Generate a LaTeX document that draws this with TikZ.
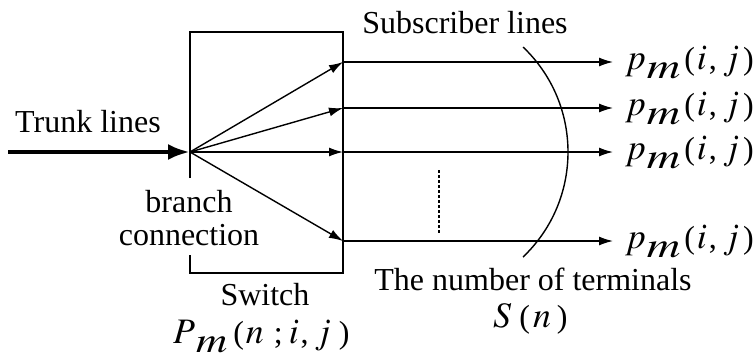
\documentclass[tikz,border=0pt]{standalone}
\usepackage{mathptmx}
\usepackage{fontspec}
\setmainfont{Liberation Serif}
\usetikzlibrary{arrows.meta}
\newcommand{\mi}[1]{\scalebox{1.12}{$#1$}}
\newcommand{\lowm}[1]{\raisebox{-9pt}{\scalebox{#1}[1.12]{$m$}}}
\newcommand{\pmij}{\mi{p}\kern1pt\lowm{1.45}\kern4pt(\kern2pt\mi{i}\kern2pt,\kern6pt\mi{j}\kern4pt)}
\newcommand{\Pmnij}{\mi{P}\kern1pt\lowm{1.35}\kern6pt(\kern2pt\mi{n}\kern10pt;\kern6pt\mi{i}\kern2pt,\kern6pt\mi{j}\kern8pt)}
\newcommand{\Sn}{\mi{S}\kern8pt(\kern3pt\mi{n}\kern6pt)}
\begin{document}
\begin{tikzpicture}[x=1pt,y=-1pt,
  lbl/.style={font=\fontsize{32}{36}\selectfont, inner sep=0pt, anchor=base},
  mlbl/.style={font=\fontsize{32}{36}\selectfont, inner sep=0pt, anchor=base west},
  thin line/.style={line width=1.4pt},
  arr/.style={line width=1.4pt, -{Latex[length=14pt,width=9pt]}},
  trunk/.style={line width=4.5pt, -{Latex[length=22pt,width=16pt]}}]
\useasboundingbox (0,0) rectangle (755,362);
% branch point and targets
\coordinate (br) at (190,152);
\coordinate (start) at (8,152);
\coordinate (t1) at (343,62);
\coordinate (t2) at (343,108);
\coordinate (t3) at (343,152);
\coordinate (t4) at (343,241);
\coordinate (e1) at (613,62);
\coordinate (e2) at (613,108);
\coordinate (e3) at (613,152);
\coordinate (e4) at (613,241);
% switch box
\draw[thin line] (190,178) -- (190,32) -- (343,32) -- (343,273) -- (190,273) -- (190,255);
% trunk
\draw[trunk] (start) -- (br);
% fan
\foreach \t in {t1,t2,t3,t4} \draw[arr] (br) -- (\t);
% subscriber lines
\draw[arr] (t1) -- (e1);
\draw[arr] (t2) -- (e2);
\draw[arr] (t3) -- (e3);
\draw[arr] (t4) -- (e4);
% arc and dots
\coordinate (a0) at (523,47);
\coordinate (a1) at (523,257);
\draw[thin line] (a0) .. controls (583,104) and (583,200) .. (a1);
\coordinate (d0) at (439,170);
\coordinate (d1) at (439,233);
\draw[line width=1.6pt, dash pattern=on 2.5pt off 2.5pt] (d0) -- (d1);
% labels
\node[lbl] (sub) at (465,33) {Subscriber lines};
\node[lbl] (trunkl) at (88,132) {Trunk lines};
\node[lbl] (branch) at (189,212) {branch};
\node[lbl] (conn) at (189,245) {connection};
\node[lbl] (sw) at (265,305) {Switch};
\node[mlbl] (pm) at (173,343) {\Pmnij};
\node[lbl] (term) at (533,290) {The number of terminals};
\node[mlbl] (sn) at (493,327) {\Sn};
\node[mlbl] (l1) at (625,69) {\pmij};
\node[mlbl] (l2) at (625,115) {\pmij};
\node[mlbl] (l3) at (625,159) {\pmij};
\node[mlbl] (l4) at (625,248) {\pmij};
\end{tikzpicture}
\end{document}
